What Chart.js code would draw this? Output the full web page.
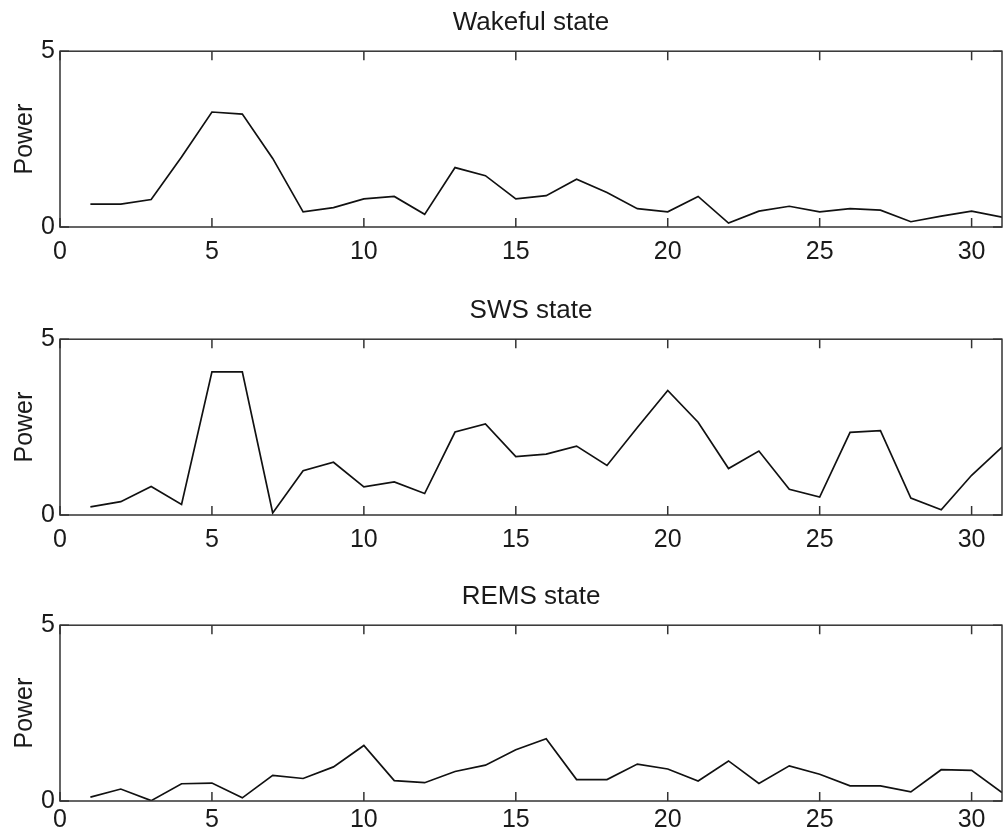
<!DOCTYPE html>
<html>
<head>
<meta charset="utf-8">
<title>Power by state</title>
<script src="https://cdn.jsdelivr.net/npm/chart.js@4.4.1/dist/chart.umd.min.js"></script>
<style>
  body { margin: 0; background: #fff; }
  .wrap { position: relative; width: 1005px; height: 840px; overflow: hidden; }
  canvas { position: absolute; left: 0; }
</style>
</head>
<body>
<div class="wrap">
  <canvas id="wake" width="1005" height="267" style="top:0px"></canvas>
  <canvas id="sws" width="1005" height="267" style="top:288px"></canvas>
  <canvas id="rems" width="1005" height="267" style="top:574px"></canvas>
</div>
<script>
// data
const freqBins = [1,2,3,4,5,6,7,8,9,10,11,12,13,14,15,16,17,18,19,20,21,22,23,24,25,26,27,28,29,30,31]
const wakefulPower = [0.65,0.65,0.78,1.99,3.27,3.21,1.95,0.43,0.55,0.80,0.87,0.36,1.69,1.46,0.80,0.89,1.36,0.98,0.52,0.43,0.87,0.11,0.45,0.59,0.43,0.52,0.48,0.15,0.31,0.45,0.28]
const swsPower = [0.23,0.38,0.81,0.30,4.07,4.07,0.06,1.26,1.50,0.80,0.94,0.61,2.36,2.59,1.66,1.73,1.96,1.41,2.49,3.54,2.64,1.32,1.82,0.73,0.51,2.35,2.40,0.48,0.15,1.13,1.93]
const remsPower = [0.11,0.34,0.01,0.49,0.51,0.09,0.73,0.64,0.97,1.58,0.58,0.52,0.84,1.02,1.46,1.77,0.61,0.61,1.05,0.91,0.57,1.14,0.50,1.00,0.76,0.43,0.43,0.26,0.89,0.87,0.24]

const xTickValues = [0,5,10,15,20,25,30]
const yTickValues = [0,5]

Chart.defaults.font.family = "'Liberation Sans', Arial, sans-serif"
Chart.defaults.color = '#1a1a1a'

// matlab style box with inward ticks
const boxTicks = {
    id: 'boxTicks',
    afterDraw(chart) {
        const {ctx, chartArea: a, scales} = chart
        ctx.save()
        ctx.strokeStyle = '#333'
        ctx.lineWidth = 1.5
        ctx.strokeRect(a.left, a.top, a.right - a.left, a.bottom - a.top)
        ctx.beginPath()
        scales.x.ticks.forEach(t => {
            const px = scales.x.getPixelForValue(t.value)
            ctx.moveTo(px, a.bottom); ctx.lineTo(px, a.bottom - 9)
            ctx.moveTo(px, a.top); ctx.lineTo(px, a.top + 9)
        })
        scales.y.ticks.forEach(t => {
            const py = scales.y.getPixelForValue(t.value)
            ctx.moveTo(a.left, py); ctx.lineTo(a.left + 9, py)
            ctx.moveTo(a.right, py); ctx.lineTo(a.right - 9, py)
        })
        ctx.stroke()
        ctx.restore()
    }
}

function makePanel(id, title, values, labelPad) {
    new Chart(document.getElementById(id), {
        type: 'line',
        data: {
            datasets: [{
                data: freqBins.map((f, i) => ({x: f, y: values[i]})),
                borderColor: '#111',
                borderWidth: 1.7,
                pointRadius: 0,
                tension: 0,
                fill: false
            }]
        },
        options: {
            responsive: false,
            animation: false,
            devicePixelRatio: 1,
            layout: { padding: { left: 0, right: 3, top: 0, bottom: 0 } },
            plugins: {
                legend: { display: false },
                tooltip: { enabled: false },
                title: {
                    display: true,
                    fullSize: false,
                    text: title,
                    font: { size: 26, weight: 'normal' },
                    padding: { top: 7, bottom: 13 }
                }
            },
            scales: {
                x: {
                    type: 'linear',
                    min: 0,
                    max: 31,
                    afterBuildTicks: s => { s.ticks = xTickValues.map(v => ({value: v})) },
                    afterFit: s => { s.height = 40 },
                    grid: { display: false, drawTicks: false },
                    border: { display: false },
                    ticks: { font: { size: 25 }, padding: labelPad, maxRotation: 0 }
                },
                y: {
                    min: 0,
                    max: 5,
                    afterBuildTicks: s => { s.ticks = yTickValues.map(v => ({value: v})) },
                    afterFit: s => { s.width = 60 },
                    grid: { display: false, drawTicks: false },
                    border: { display: false },
                    ticks: { font: { size: 25 }, padding: 5 },
                    title: {
                        display: true,
                        text: 'Power',
                        font: { size: 25 },
                        padding: { top: 10, bottom: 0 }
                    }
                }
            }
        },
        plugins: [boxTicks]
    })
}

makePanel('wake', 'Wakeful state', wakefulPower, 10)
makePanel('sws', 'SWS state', swsPower, 10)
makePanel('rems', 'REMS state', remsPower, 4)
</script>
</body>
</html>
